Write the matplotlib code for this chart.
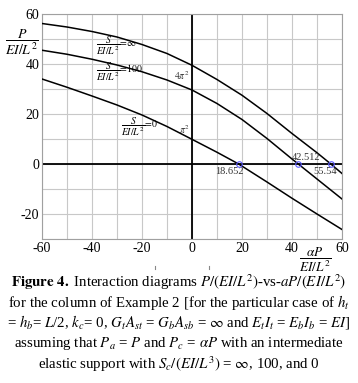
import matplotlib
matplotlib.use("Agg")
import matplotlib.pyplot as plt
from matplotlib.lines import Line2D
import numpy as np

plt.rcParams['font.family'] = ['Liberation Serif', 'DejaVu Serif']
plt.rcParams['mathtext.fontset'] = 'stix'
plt.rcParams['axes.unicode_minus'] = False

# data
x_inf = [-60, -50, -40, -30, -20, -10, 0, 10, 20, 30, 40, 50, 55.54, 60]
y_inf = [56.2, 54.8, 53.0, 50.8, 47.8, 44.2, 39.48, 33.8, 27.5, 20.2, 12.2, 4.5, 0.0, -3.8]

x_100 = [-60, -50, -40, -30, -20, -10, 0, 10, 20, 30, 40, 42.512, 50, 60]
y_100 = [45.5, 43.9, 41.9, 39.6, 36.9, 33.6, 29.6, 24.2, 17.8, 10.2, 2.0, 0.0, -6.0, -14.0]

x_0 = [-60, -50, -40, -30, -20, -10, 0, 10, 18.652, 20, 30, 40, 50, 60]
y_0 = [34.0, 30.7, 27.2, 23.6, 19.6, 15.0, 9.87, 4.7, 0.0, -0.85, -7.2, -13.7, -20.0, -26.2]

roots = [18.652, 42.512, 55.54]
root_labels = ["18.652", "42.512", "55.54"]
xticks = [-60, -40, -20, 0, 20, 40, 60]
yticks = [-20, 0, 20, 40, 60]

fig = plt.figure(figsize=(3.58, 3.83), dpi=100)
ax = fig.add_axes([42/358, 1-239/383, 300/358, 225/383])
ax.set_xlim(-60, 60)
ax.set_ylim(-30, 60)
ax.set_xticks(xticks)
ax.set_yticks(yticks)
ax.set_xticks(np.arange(-60, 61, 10), minor=True)
ax.set_yticks(np.arange(-30, 61, 10), minor=True)
ax.grid(True, which='both', color='#c8c8c8', linewidth=0.8)
ax.tick_params(which='both', length=0, labelsize=10, pad=2)
for s in ax.spines.values():
    s.set_color('#a0a0a0')
    s.set_linewidth(0.8)
ax.axhline(0, color='black', linewidth=1.3, zorder=2)
ax.axvline(0, color='black', linewidth=1.3, zorder=2)

for xs, ys in [(x_inf, y_inf), (x_100, y_100), (x_0, y_0)]:
    ax.plot(xs, ys, color='black', linewidth=1.1, zorder=3)

ax.plot(roots, [0, 0, 0], linestyle='none', marker='o', markersize=4,
        markerfacecolor='none', markeredgecolor='#5a5aff', markeredgewidth=0.8, zorder=4)

ax.text(14.8, -1.2, root_labels[0], fontsize=7.5, ha='center', va='top', color='#333333')
ax.text(45.6, 1.0, root_labels[1], fontsize=7.5, ha='center', va='bottom', color='#333333')
ax.text(53.4, -1.2, root_labels[2], fontsize=7.5, ha='center', va='top', color='#333333')

ax.text(-1, 38, r"$4\pi^2$", fontsize=7, ha='right', va='top', color='#333333')
ax.text(-1, 11, r"$\pi^2$", fontsize=7, ha='right', va='bottom', color='#333333')

ax.text(-38.5, 47.5, r"$\dfrac{S}{EI/L^2}\!=\!\infty$", fontsize=7, ha='left', va='center')
ax.text(-38.5, 37.0, r"$\dfrac{S}{EI/L^2}\!=\!100$", fontsize=7, ha='left', va='center')
ax.text(-28.5, 15.0, r"$\dfrac{S}{EI/L^2}\!=\!0$", fontsize=7, ha='left', va='center')

fig.text(22/358, 1-42/383, r"$\dfrac{P}{EI/L^2}$", fontsize=10, ha='center', va='center')
fig.text(315/358, 1-260/383, r"$\dfrac{\alpha P}{EI/L^2}$", fontsize=9.5, ha='center', va='center')

fig.add_artist(Line2D([155/358, 155/358], [1-266/383, 1-269/383], color='#888888', linewidth=0.8))
fig.add_artist(Line2D([209/358, 209/358], [1-266/383, 1-269/383], color='#888888', linewidth=0.8))

cap = [
    r"$\mathbf{Figure\ 4.}$ Interaction diagrams $P/(EI/L^2)$-vs-$aP/(EI/L^2)$",
    r"for the column of Example 2 [for the particular case of $h_t$",
    r"= $h_b$= $L$/2, $k_c$= 0, $G_tA_{st}$ = $G_bA_{sb}$ = $\infty$ and $E_tI_t$ = $E_bI_b$ = $EI$]",
    r"assuming that $P_a$ = $P$ and $P_c$ = $\alpha P$ with an intermediate",
    r"elastic support with $S_c/(EI/L^3)$ = $\infty$, 100, and 0",
]
ys = [282, 302, 322, 343, 364]
for t, y in zip(cap, ys):
    fig.text(179/358, 1-y/383, t, fontsize=10.7, ha='center', va='center')

fig.savefig("out.png", dpi=100)
